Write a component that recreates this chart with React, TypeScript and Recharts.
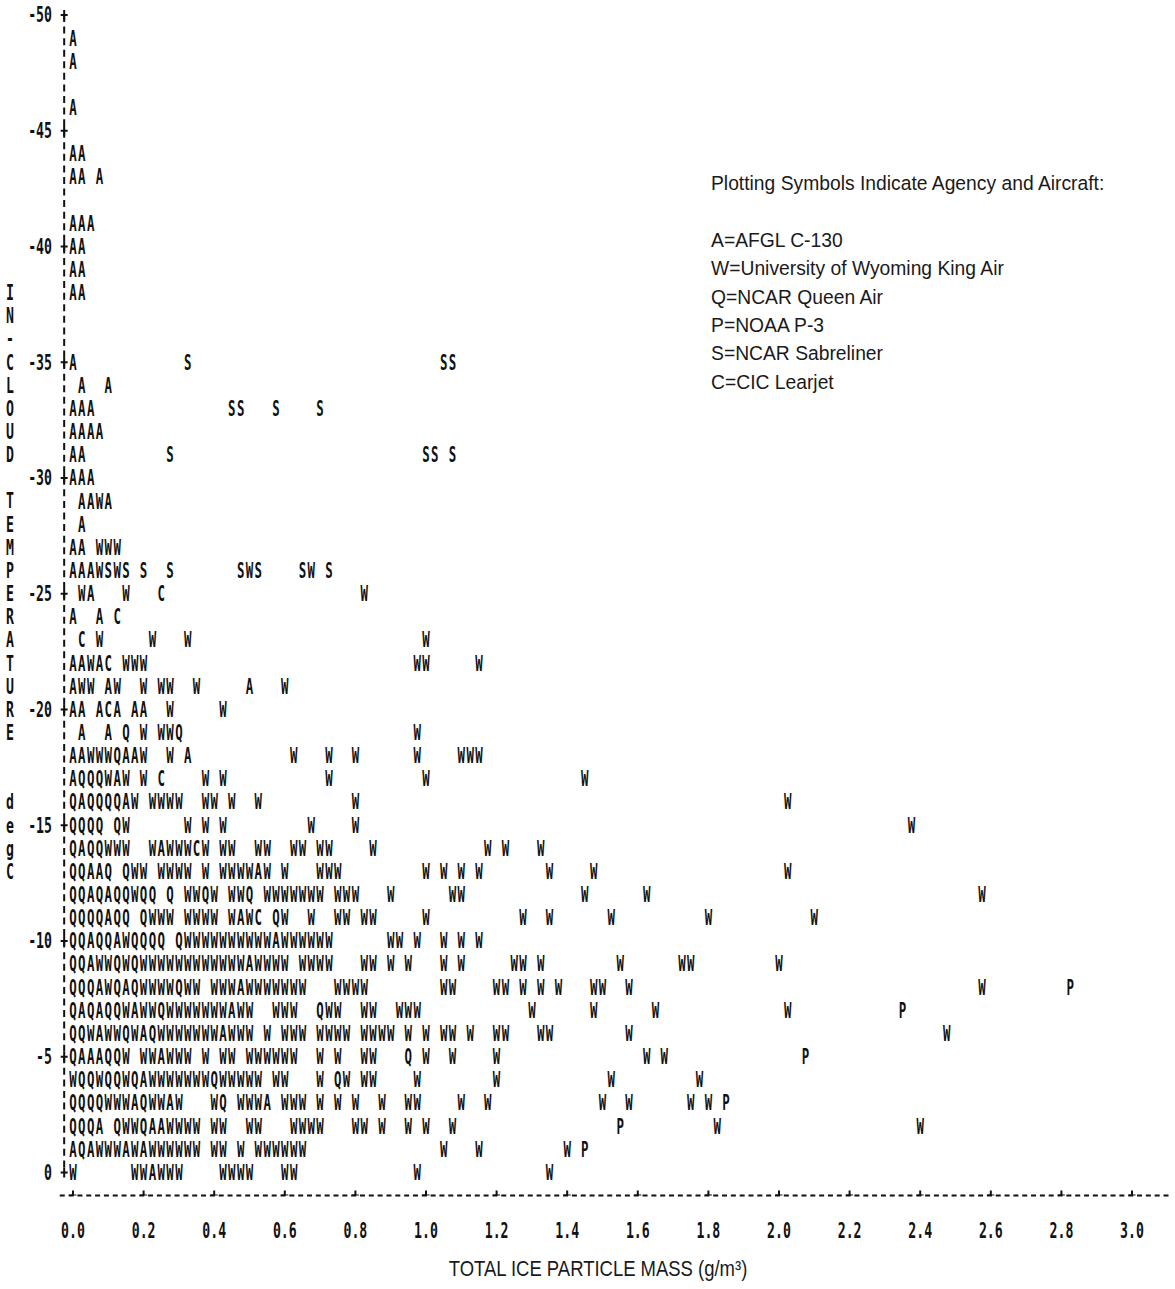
import React from 'react';
import { ScatterChart, Scatter, XAxis, YAxis, Legend, ReferenceLine } from 'recharts';

// one printer column = 0.025 g/m3 of ice mass
const MASS_BIN = 0.025;

const AIRCRAFT = [
  { code: 'A', name: 'AFGL C-130' },
  { code: 'W', name: 'University of Wyoming King Air' },
  { code: 'Q', name: 'NCAR Queen Air' },
  { code: 'P', name: 'NOAA P-3' },
  { code: 'S', name: 'NCAR Sabreliner' },
  { code: 'C', name: 'CIC Learjet' },
];

const LEGEND_TITLE = 'Plotting Symbols Indicate Agency and Aircraft:';
const X_TITLE = 'TOTAL ICE PARTICLE MASS (g/m\u00B3)';
const Y_TITLE = 'IN-CLOUD TEMPERATURE  degC';

const X_TICKS = [0, 0.2, 0.4, 0.6, 0.8, 1.0, 1.2, 1.4, 1.6, 1.8, 2.0, 2.2, 2.4, 2.6, 2.8, 3.0];
const Y_TICKS = [-50, -45, -40, -35, -30, -25, -20, -15, -10, -5, 0];

// printed rows: temperature of each row
const TEMPERATURES = [
  -49, -48, -46, -44, -43, -41, -40, -39, -38,
  -35, -34, -33, -32, -31, -30, -29, -28, -27, -26,
  -25, -24, -23, -22, -21, -20, -19, -18, -17, -16,
  -15, -14, -13, -12, -11, -10, -9, -8, -7, -6,
  -5, -4, -3, -2, -1, 0,
];

// [first mass bin, symbols printed from that bin on] for each row above
const ROW_SEGMENTS: [number, string][][] = [
  [[0, 'A']],
  [[0, 'A']],
  [[0, 'A']],
  [[0, 'AA']],
  [[0, 'AA'], [3, 'A']],
  [[0, 'AAA']],
  [[0, 'AA']],
  [[0, 'AA']],
  [[0, 'AA']],
  // -35
  [[0, 'A'], [13, 'S'], [42, 'SS']],
  [[1, 'A'], [4, 'A']],
  [[0, 'AAA'], [18, 'SS'], [23, 'S'], [28, 'S']],
  [[0, 'AAAA']],
  [[0, 'AA'], [11, 'S'], [40, 'SS'], [43, 'S']],
  [[0, 'AAA']],
  [[1, 'AAWA']],
  [[1, 'A']],
  [[0, 'AA'], [3, 'WWW']],
  [[0, 'AAAWSWS'], [8, 'S'], [11, 'S'], [19, 'SWS'], [26, 'SW'], [29, 'S']],
  // -25
  [[1, 'WA'], [6, 'W'], [10, 'C'], [33, 'W']],
  [[0, 'A'], [3, 'A'], [5, 'C']],
  [[1, 'C'], [3, 'W'], [9, 'W'], [13, 'W'], [40, 'W']],
  [[0, 'AAWAC'], [6, 'WWW'], [39, 'WW'], [46, 'W']],
  [[0, 'AWW'], [4, 'AW'], [8, 'W'], [10, 'WW'], [14, 'W'], [20, 'A'], [24, 'W']],
  [[0, 'AA'], [3, 'ACA'], [7, 'AA'], [11, 'W'], [17, 'W']],
  [[1, 'A'], [4, 'A'], [6, 'Q'], [8, 'W'], [10, 'WWQ'], [39, 'W']],
  [[0, 'AAWWWQAAW'], [11, 'W'], [13, 'A'], [25, 'W'], [29, 'W'], [32, 'W'], [39, 'W'], [44, 'WWW']],
  [[0, 'AQQQWAW'], [8, 'W'], [10, 'C'], [15, 'W'], [17, 'W'], [29, 'W'], [40, 'W'], [58, 'W']],
  [[0, 'QAQQQQAW'], [9, 'WWWW'], [15, 'WW'], [18, 'W'], [21, 'W'], [32, 'W'], [81, 'W']],
  // -15
  [[0, 'QQQQ'], [5, 'QW'], [13, 'W'], [15, 'W'], [17, 'W'], [27, 'W'], [32, 'W'], [95, 'W']],
  [[0, 'QAQQWWW'], [9, 'WAWWWCW'], [17, 'WW'], [21, 'WW'], [25, 'WW'], [28, 'WW'], [34, 'W'], [47, 'W'], [49, 'W'], [53, 'W']],
  [[0, 'QQAAQ'], [6, 'QWW'], [10, 'WWWW'], [15, 'W'], [17, 'WWWWAW'], [24, 'W'], [28, 'WWW'], [40, 'W'], [42, 'W'], [44, 'W'], [46, 'W'], [54, 'W'], [59, 'W'], [81, 'W']],
  [[0, 'QQAQAQQWQQ'], [11, 'Q'], [13, 'WWQW'], [18, 'WWQ'], [22, 'WWWWWWW'], [30, 'WWW'], [36, 'W'], [43, 'WW'], [58, 'W'], [65, 'W'], [103, 'W']],
  [[0, 'QQQQAQQ'], [8, 'QWWW'], [13, 'WWWW'], [18, 'WAWC'], [23, 'QW'], [27, 'W'], [30, 'WW'], [33, 'WW'], [40, 'W'], [51, 'W'], [54, 'W'], [61, 'W'], [72, 'W'], [84, 'W']],
  // -10
  [[0, 'QQAQQAWQQQQ'], [12, 'QWWWWWWWWWWAWWWWWW'], [36, 'WW'], [39, 'W'], [42, 'W'], [44, 'W'], [46, 'W']],
  [[0, 'QQAWWQWQWWWWWWWWWWWWAWWWW'], [26, 'WWWW'], [33, 'WW'], [36, 'W'], [38, 'W'], [42, 'W'], [44, 'W'], [50, 'WW'], [53, 'W'], [62, 'W'], [69, 'WW'], [80, 'W']],
  [[0, 'QQQAWQAQWWWWQWW'], [16, 'WWWAWWWWWWW'], [30, 'WWWW'], [42, 'WW'], [48, 'WW'], [51, 'W'], [53, 'W'], [55, 'W'], [59, 'WW'], [63, 'W'], [103, 'W'], [113, 'P']],
  [[0, 'QAQAQQWAWWQWWWWWWWAWW'], [23, 'WWW'], [28, 'QWW'], [33, 'WW'], [37, 'WWW'], [52, 'W'], [59, 'W'], [66, 'W'], [81, 'W'], [94, 'P']],
  [[0, 'QQWAWWQWAQWWWWWWWAWWW'], [22, 'W'], [24, 'WWW'], [28, 'WWWW'], [33, 'WWWW'], [38, 'W'], [40, 'W'], [42, 'WW'], [45, 'W'], [48, 'WW'], [53, 'WW'], [63, 'W'], [99, 'W']],
  // -5
  [[0, 'QAAAQQW'], [8, 'WWAWWW'], [15, 'W'], [17, 'WW'], [20, 'WWWWWW'], [28, 'W'], [30, 'W'], [33, 'WW'], [38, 'Q'], [40, 'W'], [43, 'W'], [48, 'W'], [65, 'W'], [67, 'W'], [83, 'P']],
  [[0, 'WQQWQQWQAWWWWWWWQWWWWW'], [23, 'WW'], [28, 'W'], [30, 'QW'], [33, 'WW'], [39, 'W'], [48, 'W'], [61, 'W'], [71, 'W']],
  [[0, 'QQQQWWWAQWWAW'], [16, 'WQ'], [19, 'WWWA'], [24, 'WWW'], [28, 'W'], [30, 'W'], [32, 'W'], [35, 'W'], [38, 'WW'], [44, 'W'], [47, 'W'], [60, 'W'], [63, 'W'], [70, 'W'], [72, 'W'], [74, 'P']],
  [[0, 'QQQA'], [5, 'QWWQAAWWWW'], [16, 'WW'], [20, 'WW'], [25, 'WWWW'], [32, 'WW'], [35, 'W'], [38, 'W'], [40, 'W'], [43, 'W'], [62, 'P'], [73, 'W'], [96, 'W']],
  [[0, 'AQAWWWAWAWWWWWW'], [16, 'WW'], [19, 'W'], [21, 'WWWWWW'], [42, 'W'], [46, 'W'], [56, 'W'], [58, 'P']],
  [[0, 'W'], [7, 'WWAWWW'], [17, 'WWWW'], [24, 'WW'], [39, 'W'], [54, 'W']],
];

// the x axis is printed one row below 0 deg C
const AXIS_ROW = 1;

type Pt = { x: number; y: number; letter: string };

const points: Pt[] = TEMPERATURES.flatMap((t, i) =>
  ROW_SEGMENTS[i].flatMap(([bin, text]) =>
    text.split('').map((ch, j) => ({ x: +((bin + j) * MASS_BIN).toFixed(4), y: t, letter: ch }))
  )
).filter(p => p.letter !== ' ');

const axisMarks = [
  ...Y_TICKS.map(t => ({ x: -MASS_BIN, y: t })),
  ...X_TICKS.map(m => ({ x: m, y: AXIS_ROW })),
];

const INK = '#111';
const PRINTER_FONT = "'DejaVu Sans Mono', monospace";
const TEXT_FONT = "'Liberation Sans', Arial, sans-serif";

const LetterMark = (props: any) => {
  const { cx, cy, payload } = props;
  return (
    <text
      transform={`translate(${cx} ${cy + 7.4}) scale(0.62 1.03)`}
      textAnchor="middle"
      fontFamily={PRINTER_FONT}
      fontWeight={700}
      fontSize={20}
      fill={INK}
    >
      {payload.letter}
    </text>
  );
};

const CrossMark = (props: any) => {
  const { cx, cy } = props;
  return (
    <g stroke={INK} strokeWidth={2}>
      <line x1={cx - 3.5} x2={cx + 3.5} y1={cy} y2={cy} />
      <line x1={cx} x2={cx} y1={cy - 5} y2={cy + 5} />
    </g>
  );
};

const XTick = (props: any) => {
  const { x, payload } = props;
  return (
    <text
      transform={`translate(${x} 1238) scale(0.66 1.05)`}
      textAnchor="middle"
      fontFamily={PRINTER_FONT}
      fontWeight={700}
      fontSize={20}
      fill={INK}
    >
      {Number(payload.value).toFixed(1)}
    </text>
  );
};

const YTick = (props: any) => {
  const { y, payload } = props;
  return (
    <text
      transform={`translate(52 ${y + 7.4}) scale(0.66 1.05)`}
      textAnchor="end"
      fontFamily={PRINTER_FONT}
      fontWeight={700}
      fontSize={20}
      fill={INK}
    >
      {payload.value}
    </text>
  );
};

const YTitle = () => (
  <g>
    {Y_TITLE.split('').map((ch, i) => (
      <text
        key={i}
        transform={`translate(10 ${292.7 + i * 23.15 + 7.4}) scale(0.66 1.05)`}
        textAnchor="middle"
        fontFamily={PRINTER_FONT}
        fontWeight={700}
        fontSize={20}
        fill={INK}
      >
        {ch}
      </text>
    ))}
  </g>
);

const XTitle = () => (
  <text
    transform="translate(598 1276) scale(0.88 1.05)"
    textAnchor="middle"
    fontFamily={TEXT_FONT}
    fontSize={21}
    fill="#1a1a1a"
  >
    {X_TITLE}
  </text>
);

const LegendBox = () => (
  <div
    style={{
      fontFamily: TEXT_FONT,
      fontSize: 19.3,
      lineHeight: '28.4px',
      color: '#1a1a1a',
      whiteSpace: 'nowrap',
    }}
  >
    <div>{LEGEND_TITLE}</div>
    <div>&nbsp;</div>
    {AIRCRAFT.map(a => (
      <div key={a.code}>{a.code}={a.name}</div>
    ))}
  </div>
);

export default function App() {
  return (
    <div style={{ width: 1175, height: 1289, background: '#fff' }}>
      <style>{'body{margin:0;background:#fff}'}</style>
      <ScatterChart
        width={1175}
        height={1289}
        margin={{ top: 3.43, right: 5.93, bottom: 33.45, left: 0 }}
      >
        <XAxis
          type="number"
          dataKey="x"
          domain={[-0.0375, 3.105]}
          ticks={X_TICKS}
          interval={0}
          allowDataOverflow
          height={60}
          tickLine={false}
          axisLine={{ stroke: INK, strokeWidth: 2, strokeDasharray: '5 3.83' }}
          tick={<XTick />}
          label={<XTitle />}
        />
        <YAxis
          type="number"
          dataKey="y"
          domain={[-50.5, AXIS_ROW]}
          reversed
          ticks={Y_TICKS}
          interval={0}
          allowDataOverflow
          width={59.76}
          axisLine={false}
          tickLine={false}
          tick={<YTick />}
          label={<YTitle />}
        />
        <ReferenceLine
          segment={[{ x: -MASS_BIN, y: -50 }, { x: -MASS_BIN, y: 0 }]}
          stroke={INK}
          strokeWidth={2}
          strokeDasharray="7 4.57"
        />
        <Scatter data={axisMarks} shape={CrossMark} isAnimationActive={false} legendType="none" />
        {AIRCRAFT.map(a => (
          <Scatter
            key={a.code}
            name={a.name}
            data={points.filter(p => p.letter === a.code)}
            shape={LetterMark}
            isAnimationActive={false}
          />
        ))}
        <Legend
          layout="vertical"
          align="center"
          verticalAlign="middle"
          content={<LegendBox />}
          wrapperStyle={{ left: 711, top: 170, width: 450 }}
        />
      </ScatterChart>
    </div>
  );
}
